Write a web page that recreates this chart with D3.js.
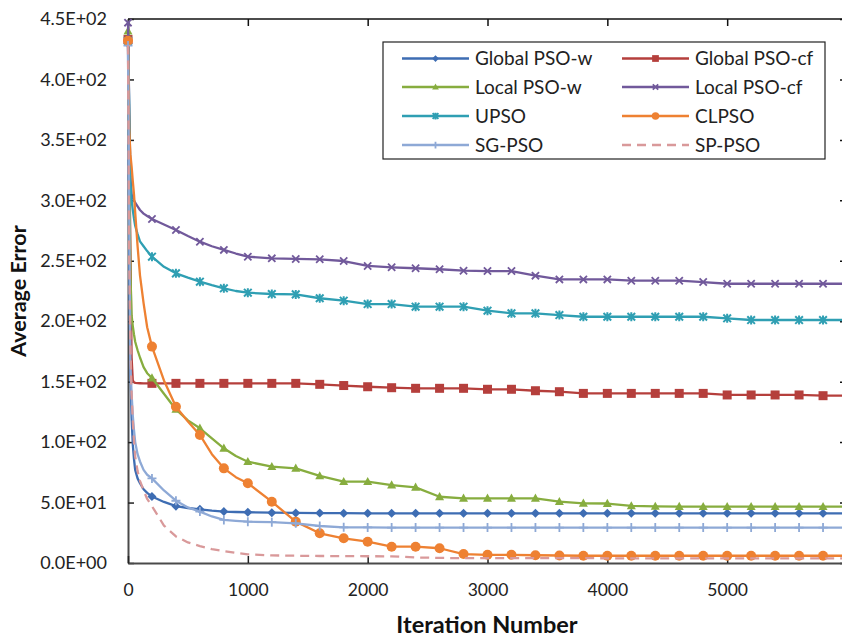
<!DOCTYPE html>
<html>
<head>
<meta charset="utf-8">
<script src="https://cdn.jsdelivr.net/npm/d3@7"></script>
<style>
  body { margin: 0; background: #fff; }
  text { font-family: Lato, "Open Sans", sans-serif; }
</style>
</head>
<body>
<svg id="chart" width="842" height="640"></svg>
<script>
// Iteration numbers at which every series was sampled
const iterations = [0, 10, 20, 30, 40, 50, 60, 80, 100, 130, 160,
  200, 300, 400, 500, 600, 700, 800, 900, 1000,
  1200, 1400, 1600, 1800, 2000, 2200, 2400, 2600, 2800, 3000, 3200, 3400, 3600, 3800,
  4000, 4200, 4400, 4600, 4800, 5000, 5200, 5400, 5600, 5800, 6000];

// Average error of each algorithm at those iterations
const globalPsoW = [430, 250, 160, 120, 98, 86, 77, 70, 66, 61, 58,
  55, 50.5, 47, 45.5, 44.4, 43.3, 42.5, 42.2, 42,
  41.6, 41.4, 41.3, 41.2, 41.1, 41.1, 41.1, 41.1, 41.1, 41.1, 41.1, 41.1, 41.1, 41.1,
  41.1, 41.1, 41.1, 41.1, 41.1, 41.1, 41.1, 41.1, 41.1, 41.1, 41.1];
const globalPsoCf = [433, 350, 260, 170, 151, 149.5, 149, 148.8, 148.7, 148.6, 148.6,
  148.6, 148.6, 148.6, 148.6, 148.6, 148.6, 148.6, 148.6, 148.6,
  148.6, 148.6, 147.8, 146.8, 145.8, 145, 144.5, 144.5, 144.5, 143.7, 143.7, 142.5, 141.7, 140.3,
  140.3, 140.3, 140.3, 140.3, 140.3, 139, 139, 139, 139, 138.4, 138.4];
const localPsoW = [440, 330, 240, 205, 196, 189, 183, 176, 170, 162, 157,
  153, 140, 127, 118, 111.4, 103, 94.9, 88.5, 83.8,
  79.7, 78.3, 72, 67.3, 67.3, 64.5, 62.6, 54.8, 53.5, 53.5, 53.5, 53.5, 50.7, 49.4,
  49.2, 47.2, 46.8, 46.7, 46.6, 46.6, 46.6, 46.6, 46.6, 46.6, 46.6];
const localPsoCf = [447, 380, 320, 305, 302, 300, 298, 295, 292, 289, 287,
  284.6, 280, 275.5, 270.5, 265.8, 262, 259, 256, 253.4,
  252, 251.5, 251.2, 249.8, 245.7, 244.6, 243.8, 243, 241.8, 241.5, 241.5, 237.7, 234.6, 234.6,
  234.6, 233.5, 233.5, 233.5, 232.4, 231, 231, 231, 231, 231, 231];
const upso = [432, 380, 315, 300, 292, 285, 279, 272, 266, 262, 258,
  253.4, 245, 239.6, 236, 232.7, 229.8, 227.2, 225, 223.6,
  222.5, 222.2, 219, 217, 214.2, 214.2, 212, 212, 212, 208.7, 206.5, 206.5, 205.1, 203.7,
  203.7, 203.7, 203.7, 203.7, 203.7, 202.4, 201, 201, 201, 201, 201];
const clpso = [432, 360, 338, 328, 316, 305, 290, 262, 238, 215, 195,
  179, 151, 129.3, 117, 105.9, 90, 78.3, 71, 66,
  50.7, 34.2, 24.6, 20.4, 17.6, 13.5, 13.5, 12.2, 7.4, 6.8, 6.8, 6.4, 6.2, 6,
  6, 6, 6, 6, 6, 6, 6, 6, 6, 6, 6];
const sgPso = [428, 300, 165, 140, 122, 110, 100, 90, 84, 77, 73,
  70, 60, 51.5, 46, 42.5, 38.5, 35.6, 34.8, 34.2,
  33.8, 32.8, 30.6, 29.5, 29.4, 29.3, 29.3, 29.3, 29.3, 29.3, 29.3, 29.3, 29.3, 29.3,
  29.3, 29.3, 29.3, 29.3, 29.3, 29.3, 29.3, 29.3, 29.3, 29.3, 29.3];
const spPso = [428, 250, 180, 140, 118, 100, 88, 76, 68, 60, 53,
  47, 31, 22, 17, 14, 11.5, 9.8, 8.3, 7.2,
  6.3, 6, 5.8, 5.7, 5.6, 5.5, 4.6, 4.2, 4, 4, 4, 4, 4, 4,
  3.9, 3.9, 3.9, 3.9, 3.9, 3.9, 3.8, 3.8, 3.8, 3.8, 3.8];

const seriesNames = ["Global PSO-w", "Global PSO-cf", "Local PSO-w", "Local PSO-cf",
  "UPSO", "CLPSO", "SG-PSO", "SP-PSO"];
const seriesValues = [globalPsoW, globalPsoCf, localPsoW, localPsoCf, upso, clpso, sgPso, spPso];
const seriesColors = ["#3e6db3", "#b53f3c", "#87ad3f", "#71599b", "#2f9fb3", "#ee8132", "#8ea9d6", "#d9999a"];
const seriesMarkers = ["diamond", "square", "triangle", "x", "star", "circle", "plus", "none"];

const xTicks = [0, 1000, 2000, 3000, 4000, 5000];
const yTicks = [0, 50, 100, 150, 200, 250, 300, 350, 400, 450];

const svg = d3.select("#chart");
const x = d3.scaleLinear().domain([0, 6000]).range([128, 847]);
const y = d3.scaleLinear().domain([0, 450]).range([563, 19]);

const sciFormat = v => {
  const [m, e] = d3.format(".1e")(v).split("e");
  const n = +e;
  return m + "E" + (n < 0 ? "-" : "+") + String(Math.abs(n)).padStart(2, "0");
};

// frame: top border and right-hand tick marks
svg.append("line").attr("x1", 128).attr("x2", 847).attr("y1", 19).attr("y2", 19)
  .attr("stroke", "#111").attr("stroke-width", 1.5);

const topAxis = svg.append("g").attr("transform", "translate(0,19)")
  .call(d3.axisTop(x).tickValues(xTicks).tickSize(-7).tickFormat(""));
topAxis.select(".domain").remove();
topAxis.selectAll("line").attr("stroke", "#111").attr("stroke-width", 1.5);

const rightAxis = svg.append("g").attr("transform", "translate(847,0)")
  .call(d3.axisRight(y).tickValues(yTicks).tickSize(-7).tickFormat(""));
rightAxis.select(".domain").remove();
rightAxis.selectAll("line").attr("stroke", "#111").attr("stroke-width", 1.5);

// left and bottom axes
const leftAxis = svg.append("g").attr("transform", "translate(128,0)")
  .call(d3.axisLeft(y).tickValues(yTicks).tickSizeInner(-6).tickSizeOuter(0)
    .tickPadding(21).tickFormat(sciFormat));
leftAxis.select(".domain").attr("stroke", "#4a4a4a").attr("stroke-width", 2);
leftAxis.selectAll("line").attr("stroke", "#222").attr("stroke-width", 1.5);
leftAxis.selectAll("text").attr("font-size", 18).attr("fill", "#222")
  .style("font-family", "Lato, sans-serif");

const bottomAxis = svg.append("g").attr("transform", "translate(0,563)")
  .call(d3.axisBottom(x).tickValues(xTicks).tickSizeInner(-7).tickSizeOuter(0)
    .tickPadding(21).tickFormat(d3.format("d")));
bottomAxis.select(".domain").attr("stroke", "#4a4a4a").attr("stroke-width", 2);
bottomAxis.selectAll("line").attr("stroke", "#222").attr("stroke-width", 1.5);
bottomAxis.selectAll("text").attr("font-size", 17.5).attr("fill", "#222")
  .style("font-family", "Lato, sans-serif");

// axis titles, centred on the plot area
svg.append("text").attr("transform", "translate(26,291) rotate(-90)")
  .attr("text-anchor", "middle").attr("font-size", 21.5).attr("font-weight", 700)
  .attr("fill", "#111").text("Average Error");
svg.append("text").attr("x", 487).attr("y", 633)
  .attr("text-anchor", "middle").attr("font-size", 23.5).attr("font-weight", 700)
  .attr("fill", "#111").text("Iteration Number");

// marker glyphs
function drawMarker(g, type, color, s) {
  const r = s / 2;
  if (type === "diamond") {
    g.append("path").attr("d", `M0,${-r}L${r},0L0,${r}L${-r},0Z`).attr("fill", color);
  } else if (type === "square") {
    g.append("rect").attr("x", -r).attr("y", -r).attr("width", s).attr("height", s)
      .attr("fill", color);
  } else if (type === "triangle") {
    g.append("path").attr("d", `M0,${-r * 1.05}L${r},${r * 0.75}L${-r},${r * 0.75}Z`)
      .attr("fill", color);
  } else if (type === "circle") {
    g.append("circle").attr("r", r).attr("fill", color);
  } else if (type === "x") {
    const k = r * 0.85;
    g.append("path").attr("d", `M${-k},${-k}L${k},${k}M${-k},${k}L${k},${-k}`)
      .attr("stroke", color).attr("stroke-width", 1.8).attr("fill", "none");
  } else if (type === "star") {
    const k = r * 0.85;
    g.append("path").attr("d", `M${-k},${-k}L${k},${k}M${-k},${k}L${k},${-k}M0,${-r}L0,${r}`)
      .attr("stroke", color).attr("stroke-width", 2).attr("fill", "none");
  } else if (type === "plus") {
    g.append("path").attr("d", `M0,${-r}L0,${r}M${-r},0L${r},0`)
      .attr("stroke", color).attr("stroke-width", 1.8).attr("fill", "none");
  }
}

const markerSize = { diamond: 9, square: 9, triangle: 9, circle: 10, x: 8.5, star: 9, plus: 9, none: 0 };

const line = d3.line()
  .x((d, i) => x(iterations[i]))
  .y(d => y(d));

seriesValues.forEach((vals, si) => {
  const color = seriesColors[si];
  const type = seriesMarkers[si];
  const g = svg.append("g").attr("class", "series");
  g.append("path").datum(vals)
    .attr("d", line)
    .attr("fill", "none")
    .attr("stroke", color)
    .attr("stroke-width", 2.3)
    .attr("stroke-linejoin", "round")
    .attr("stroke-dasharray", type === "none" ? "9,6" : null);
  if (type !== "none") {
    const pts = vals.map((v, i) => [iterations[i], v]).filter(p => p[0] % 200 === 0);
    g.selectAll("g.mark").data(pts).join("g").attr("class", "mark")
      .attr("transform", p => `translate(${x(p[0])},${y(p[1])})`)
      .each(function () { drawMarker(d3.select(this), type, color, markerSize[type]); });
  }
});

// legend
const legend = svg.append("g");
legend.append("rect").attr("x", 383).attr("y", 42).attr("width", 442).attr("height", 117)
  .attr("fill", "#fff").attr("stroke", "#222").attr("stroke-width", 1.2);
const colX = [402, 622];
const rowY = [58.5, 87, 116, 145];
seriesNames.forEach((name, si) => {
  const gx = colX[si % 2];
  const gy = rowY[Math.floor(si / 2)];
  const item = legend.append("g").attr("transform", `translate(${gx},${gy})`);
  item.append("line").attr("x1", 0).attr("x2", 67).attr("y1", 0).attr("y2", 0)
    .attr("stroke", seriesColors[si]).attr("stroke-width", 2.3)
    .attr("stroke-dasharray", seriesMarkers[si] === "none" ? "9,6" : null);
  if (seriesMarkers[si] !== "none") {
    const mg = item.append("g").attr("transform", "translate(33.5,0)");
    drawMarker(mg, seriesMarkers[si], seriesColors[si], markerSize[seriesMarkers[si]] * 0.75);
  }
  item.append("text").attr("x", 73).attr("y", 0).attr("dy", "0.35em")
    .attr("font-size", 19).attr("fill", "#222").text(name);
});
</script>
</body>
</html>
